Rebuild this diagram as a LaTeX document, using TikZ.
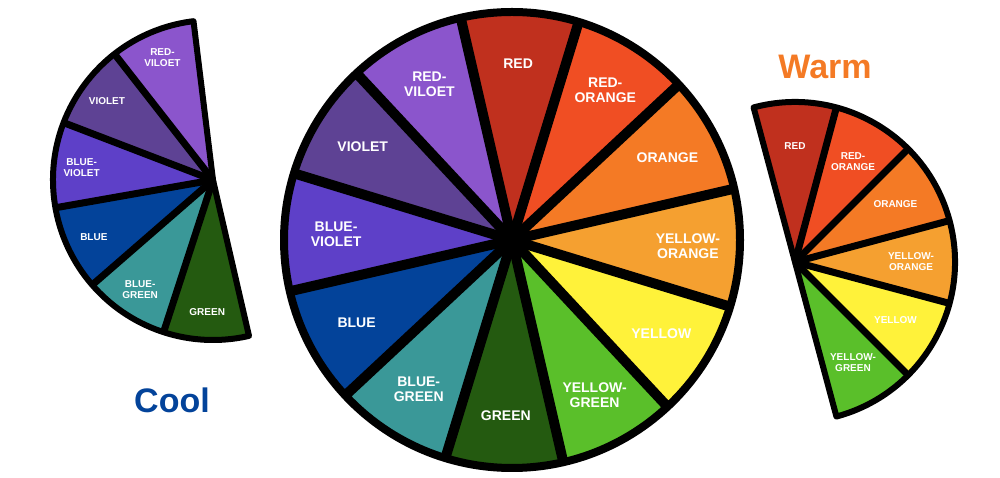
\documentclass[tikz,border=0pt]{standalone}
\usepackage{fontspec}
\setmainfont{Liberation Sans}
\usetikzlibrary{calc}
\definecolor{cRed}{HTML}{C0301E}
\definecolor{cRedOrange}{HTML}{F04E23}
\definecolor{cOrange}{HTML}{F47A25}
\definecolor{cYellowOrange}{HTML}{F5A030}
\definecolor{cYellow}{HTML}{FFF23A}
\definecolor{cYellowGreen}{HTML}{5ABF2A}
\definecolor{cGreen}{HTML}{245A10}
\definecolor{cBlueGreen}{HTML}{3A9898}
\definecolor{cBlue}{HTML}{03439A}
\definecolor{cBlueViolet}{HTML}{5E40C8}
\definecolor{cViolet}{HTML}{5E4294}
\definecolor{cRedViolet}{HTML}{8B55CC}
\tikzset{
  seglabel/.style={text=white,font=\bfseries,align=center,inner sep=0pt},
  biglabel/.style={seglabel,font=\fontsize{14}{15}\selectfont\bfseries},
  smalllabel/.style={seglabel,font=\fontsize{10}{11}\selectfont\bfseries},
  title/.style={font=\fontsize{34}{36}\selectfont\bfseries}
}
\begin{document}
\begin{tikzpicture}[x=1pt,y=1pt,line join=round]
  \useasboundingbox (0,0) rectangle (1000,478);
  % big wheel
  \coordinate (big) at (512,238);
  \foreach \a/\c in {103/cRed,73/cRedOrange,43/cOrange,13/cYellowOrange,
      -17/cYellow,-47/cYellowGreen,-77/cGreen,-107/cBlueGreen,
      -137/cBlue,-167/cBlueViolet,-197/cViolet,-227/cRedViolet}
    \fill[\c] (big) -- ++(\a:228pt) arc[start angle=\a,delta angle=-30,radius=228pt] -- cycle;
  \foreach \a in {103,73,...,-227}
    \draw[line width=10pt] (big) -- ++(\a:228pt);
  \draw[line width=8pt] (big) circle[radius=228pt];
  \fill (big) circle[radius=14pt];
  \foreach \a/\t/\n in {88/RED/red,58/{RED-\\ORANGE}/redorange,28/ORANGE/orange,
      -2/{YELLOW-\\ORANGE}/yelloworange,-32/YELLOW/yellow,-62/{YELLOW-\\GREEN}/yellowgreen,
      -92/GREEN/green,-122/{BLUE-\\GREEN}/bluegreen,-152/BLUE/blue,
      -182/{BLUE-\\VIOLET}/blueviolet,-212/VIOLET/violet,-242/{RED-\\VILOET}/redviolet}
    \node[biglabel] (big-\n) at ($(big)+(\a:176pt)$) {\t};
  % cool half
  \coordinate (cool) at (213,298);
  \foreach \a/\c in {97/cRedViolet,128/cViolet,159/cBlueViolet,190/cBlue,221/cBlueGreen,252/cGreen}
    \fill[\c] (cool) -- ++(\a:160pt) arc[start angle=\a,delta angle=31,radius=160pt] -- cycle;
  \foreach \a in {128,159,190,221,252}
    \draw[line width=7pt] (cool) -- ++(\a:160pt);
  \draw[line width=6pt] (cool) -- ++(97:160pt) arc[start angle=97,end angle=283,radius=160pt] -- cycle;
  \foreach \a/\t/\n in {112.5/{RED-\\VILOET}/redviolet,143.5/VIOLET/violet,174.5/{BLUE-\\VIOLET}/blueviolet,
      205.5/BLUE/blue,236.5/{BLUE-\\GREEN}/bluegreen,267.5/GREEN/green}
    \node[smalllabel] (cool-\n) at ($(cool)+(\a:132pt)$) {\t};
  \node[title,text=cBlue] (cool-title) at (172,78) {Cool};
  % warm half
  \coordinate (warm) at (795,216);
  \foreach \a/\c in {105/cRed,75/cRedOrange,45/cOrange,15/cYellowOrange,-15/cYellow,-45/cYellowGreen}
    \fill[\c] (warm) -- ++(\a:160pt) arc[start angle=\a,delta angle=-30,radius=160pt] -- cycle;
  \foreach \a in {75,45,15,-15,-45}
    \draw[line width=7pt] (warm) -- ++(\a:160pt);
  \draw[line width=6pt] (warm) -- ++(105:160pt) arc[start angle=105,end angle=-75,radius=160pt] -- cycle;
  \foreach \a/\t/\n in {90/RED/red,60/{RED-\\ORANGE}/redorange,30/ORANGE/orange,
      0/{YELLOW-\\ORANGE}/yelloworange,-30/YELLOW/yellow,-60/{YELLOW-\\GREEN}/yellowgreen}
    \node[smalllabel] (warm-\n) at ($(warm)+(\a:116pt)$) {\t};
  \node[title,text=cOrange] (warm-title) at (825,411) {Warm};
\end{tikzpicture}
\end{document}
